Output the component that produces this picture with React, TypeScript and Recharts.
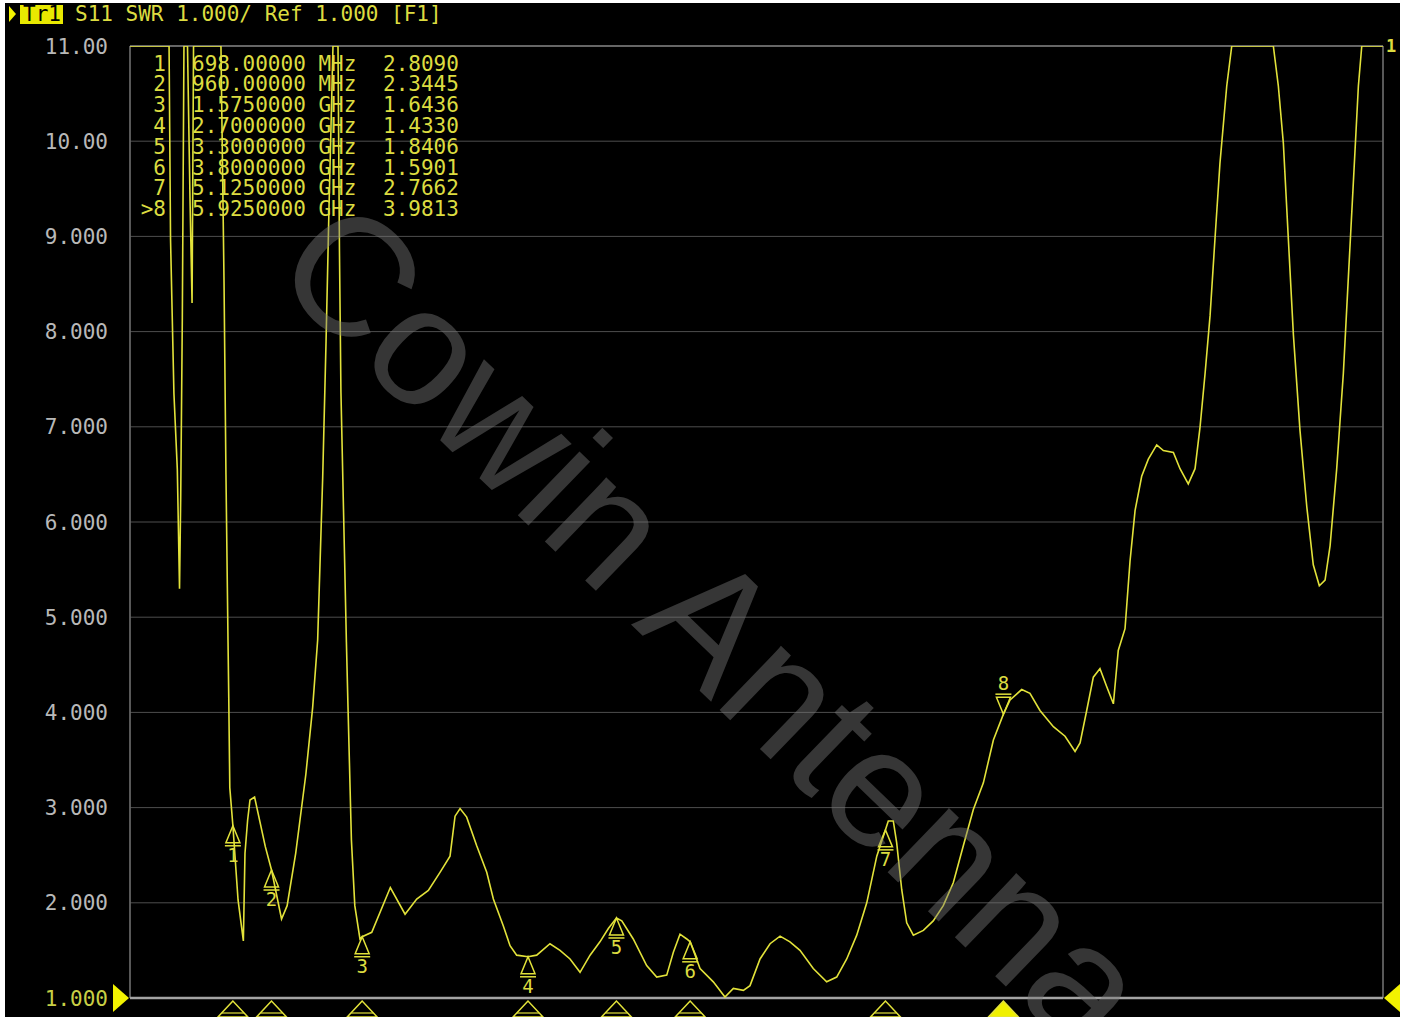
import React from 'react';
import { LineChart, Line, XAxis, YAxis, CartesianGrid, ReferenceLine, ReferenceDot } from 'recharts';

// S11 SWR trace, frequency in GHz
const freqGHz = [
  0, 0.265, 0.275, 0.298, 0.321, 0.336, 0.344, 0.355, 0.366, 0.39, 0.407, 0.421, 0.431,
  0.617, 0.638, 0.651, 0.665, 0.67, 0.677, 0.698, 0.733, 0.769, 0.78, 0.798, 0.814, 0.845,
  0.918, 0.96, 1.028, 1.066, 1.124, 1.193, 1.239, 1.273, 1.307, 1.33, 1.35, 1.377, 1.411,
  1.421, 1.431, 1.455, 1.468, 1.479, 1.502, 1.525, 1.56, 1.575, 1.64, 1.766, 1.866, 1.945,
  2.024, 2.103, 2.171, 2.205, 2.239, 2.284, 2.352, 2.42, 2.465, 2.532, 2.578, 2.623, 2.7,
  2.759, 2.849, 2.917, 2.985, 3.053, 3.121, 3.188, 3.245, 3.3, 3.336, 3.414, 3.505, 3.573,
  3.641, 3.686, 3.731, 3.777, 3.8, 3.867, 3.957, 4.036, 4.093, 4.161, 4.206, 4.274, 4.342,
  4.41, 4.477, 4.545, 4.635, 4.726, 4.794, 4.862, 4.93, 4.998, 5.066, 5.125, 5.144, 5.178,
  5.201, 5.235, 5.269, 5.314, 5.382, 5.449, 5.517, 5.585, 5.653, 5.721, 5.789, 5.857, 5.925,
  5.97, 6.049, 6.105, 6.173, 6.264, 6.343, 6.411, 6.445, 6.49, 6.535, 6.58, 6.626, 6.671,
  6.704, 6.75, 6.784, 6.818, 6.863, 6.908, 6.965, 7.01, 7.078, 7.123, 7.179, 7.225, 7.259,
  7.293, 7.327, 7.36, 7.394, 7.44, 7.474, 7.756, 7.79, 7.824, 7.858, 7.892, 7.937, 7.983,
  8.027, 8.068, 8.107, 8.141, 8.186, 8.231, 8.265, 8.299, 8.333, 8.356, 8.5,
];
const swr = [
  11, 11, 8.97, 7.35, 6.55, 5.3, 6.26, 8.15, 11, 11, 9.4, 8.3, 11,
  11, 8.5, 6.5, 4.74, 4.15, 3.21, 2.809, 2.03, 1.6, 2.52, 2.87, 3.08, 3.11,
  2.59, 2.3445, 1.83, 1.97, 2.52, 3.35, 4.05, 4.76, 6.46, 7.9, 9.3, 11, 11,
  8.84, 7.36, 5.66, 4.74, 4.05, 2.66, 1.97, 1.62, 1.6436, 1.69, 2.16, 1.88, 2.04,
  2.13, 2.32, 2.49, 2.91, 2.99, 2.9, 2.6, 2.32, 2.04, 1.76, 1.55, 1.45, 1.433,
  1.45, 1.57, 1.5, 1.41, 1.27, 1.45, 1.59, 1.73, 1.8406, 1.81, 1.62, 1.34, 1.22,
  1.24, 1.48, 1.67, 1.62, 1.5901, 1.31, 1.17, 1.01, 1.1, 1.08, 1.13, 1.41, 1.57,
  1.65, 1.59, 1.5, 1.31, 1.17, 1.22, 1.41, 1.66, 2.0, 2.49, 2.7662, 2.86, 2.86,
  2.63, 2.14, 1.79, 1.66, 1.71, 1.81, 1.97, 2.21, 2.6, 2.98, 3.26, 3.71, 3.9813,
  4.13, 4.24, 4.2, 4.02, 3.85, 3.75, 3.59, 3.68, 4.02, 4.37, 4.46, 4.27, 4.09,
  4.65, 4.88, 5.59, 6.12, 6.48, 6.66, 6.81, 6.75, 6.73, 6.56, 6.4, 6.56, 7.0,
  7.56, 8.17, 8.97, 9.77, 10.58, 11, 11, 10.58, 9.98, 8.97, 7.97, 6.96, 6.16,
  5.55, 5.33, 5.39, 5.75, 6.56, 7.56, 8.57, 9.57, 10.58, 11, 11,
];

const markerFreqs = [0.698, 0.96, 1.575, 2.7, 3.3, 3.8, 5.125, 5.925];
const markerSwr = [2.809, 2.3445, 1.6436, 1.433, 1.8406, 1.5901, 2.7662, 3.9813];
const activeMarker = 8;

const yTicks = [1, 2, 3, 4, 5, 6, 7, 8, 9, 10, 11];
const xTicks = [0, 0.85, 1.7, 2.55, 3.4, 4.25, 5.1, 5.95, 6.8, 7.65, 8.5];
const refLevel = 1;

const traceName = 'Tr1';
const headerText = 'S11 SWR 1.000/ Ref 1.000 [F1]';
const watermark = 'Cowin Antenna';

const YELLOW = '#e2e23a';
const TEXT_YELLOW = '#dcdc40';
const MONO = '"DejaVu Sans Mono", "Liberation Mono", monospace';

const data = freqGHz.map((f, i) => ({ f, v: swr[i] }));

const fmtFreq = (f: number) => (f < 1 ? `${(f * 1000).toFixed(5)} MHz` : `${f.toFixed(7)} GHz`);
const fmtY = (v: number) => (v >= 10 ? v.toFixed(2) : v.toFixed(3));

const YTick = (props: any) => {
  const { x, y, payload } = props;
  return (
    <text x={x} y={y} dy="0.36em" textAnchor="end" fontFamily={MONO} fontSize={21}
      fill={payload.value === refLevel ? '#c8cf45' : '#b8b8b8'}>
      {fmtY(payload.value)}
    </text>
  );
};

const traceMarker = (n: number) => (props: any) => {
  const { cx, cy } = props;
  if (n === activeMarker) {
    return (
      <g>
        <path d={`M${cx},${cy} L${cx - 7},${cy - 17} L${cx + 7},${cy - 17} Z`} fill="none" stroke={YELLOW} strokeWidth={1.5} />
        <line x1={cx - 8} x2={cx + 8} y1={cy - 20} y2={cy - 20} stroke={YELLOW} strokeWidth={1.5} />
        <text x={cx} y={cy - 24} textAnchor="middle" fontFamily={MONO} fontSize={19} fill={TEXT_YELLOW}>{n}</text>
      </g>
    );
  }
  return (
    <g>
      <path d={`M${cx},${cy} L${cx - 7},${cy + 17} L${cx + 7},${cy + 17} Z`} fill="none" stroke={YELLOW} strokeWidth={1.5} />
      <line x1={cx - 8} x2={cx + 8} y1={cy + 20} y2={cy + 20} stroke={YELLOW} strokeWidth={1.5} />
      <text x={cx} y={cy + 36} textAnchor="middle" fontFamily={MONO} fontSize={19} fill={TEXT_YELLOW}>{n}</text>
    </g>
  );
};

const axisMarker = (n: number) => (props: any) => {
  const { cx, cy } = props;
  const active = n === activeMarker;
  return (
    <g>
      <path d={`M${cx},${cy + 3} L${cx - 15},${cy + 19} L${cx + 15},${cy + 19} Z`}
        fill={active ? '#f0f000' : 'none'} stroke={YELLOW} strokeWidth={1.5} />
      {!active && <line x1={cx - 11} x2={cx + 11} y1={cy + 15} y2={cy + 15} stroke={YELLOW} strokeWidth={1.2} />}
    </g>
  );
};

const leftRef = (props: any) => {
  const { cx, cy } = props;
  return <path d={`M${cx - 1},${cy} L${cx - 17},${cy - 14} L${cx - 17},${cy + 14} Z`} fill="#f2f200" />;
};
const rightRef = (props: any) => {
  const { cx, cy } = props;
  return <path d={`M${cx + 1},${cy} L${cx + 17},${cy - 14} L${cx + 17},${cy + 14} Z`} fill="#f2f200" />;
};
const traceTag = (props: any) => {
  const { cx, cy } = props;
  return <text x={cx + 3} y={cy} dy="0.36em" fontFamily={MONO} fontSize={17} fontWeight="bold" fill={TEXT_YELLOW}>1</text>;
};

export default function App() {
  return (
    <div style={{ position: 'absolute', left: 0, top: 0, width: 1407, height: 1017, background: '#fff', overflow: 'hidden' }}>
      <div style={{ position: 'absolute', left: 5, top: 3, width: 1395, height: 1014, background: '#000' }} />
      <div style={{ position: 'absolute', left: 0, top: 0 }}>
        <LineChart width={1407} height={1017} data={data} margin={{ top: 46, right: 24, bottom: 19, left: 10 }}>
          <CartesianGrid stroke="#4e4e4e" strokeWidth={1} />
          <XAxis dataKey="f" type="number" domain={[0, 8.5]} ticks={xTicks} height={0}
            tick={false} axisLine={false} tickLine={false} />
          <YAxis type="number" domain={[1, 11]} ticks={yTicks} interval={0} width={120} allowDataOverflow
            axisLine={false} tickLine={false} tickSize={0} tickMargin={22} tick={<YTick />} />
          <ReferenceLine y={11} stroke="#7c7c7c" strokeWidth={1.5} />
          <ReferenceLine x={0} stroke="#6a6a6a" strokeWidth={1.5} />
          <ReferenceLine x={8.5} stroke="#6a6a6a" strokeWidth={1.5} />
          <ReferenceLine y={1} stroke="#a4a4a4" strokeWidth={2.5} />
          <Line type="linear" dataKey="v" stroke={YELLOW} strokeWidth={1.6} dot={false} isAnimationActive={false} />
          {markerFreqs.map((f, i) => (
            <ReferenceDot key={`m${i}`} x={f} y={markerSwr[i]} r={0} ifOverflow="visible" shape={traceMarker(i + 1)} />
          ))}
          {markerFreqs.map((f, i) => (
            <ReferenceDot key={`a${i}`} x={f} y={refLevel} r={0} ifOverflow="visible" shape={axisMarker(i + 1)} />
          ))}
          <ReferenceDot x={0} y={refLevel} r={0} ifOverflow="visible" shape={leftRef} />
          <ReferenceDot x={8.5} y={refLevel} r={0} ifOverflow="visible" shape={rightRef} />
          <ReferenceDot x={8.5} y={11} r={0} ifOverflow="visible" shape={traceTag} />
        </LineChart>
      </div>
      <svg width={1407} height={1017} style={{ position: 'absolute', left: 0, top: 0, pointerEvents: 'none' }}>
        <path d="M9,6 L16,14 L9,22 Z" fill="#f2f200" />
        <rect x={20} y={5} width={43} height={19} fill="#e8e800" />
        <text x={23} y={21} fontFamily={MONO} fontSize={21} fill="#000">{traceName}</text>
        <text x={75} y={21} fontFamily={MONO} fontSize={21} fill={TEXT_YELLOW}>{headerText}</text>
        {markerFreqs.map((f, i) => {
          const y = 70.5 + i * 20.8;
          const n = i + 1;
          return (
            <g key={i} fontFamily={MONO} fontSize={21} fill={TEXT_YELLOW}>
              <text x={166} y={y} textAnchor="end">{n === activeMarker ? `>${n}` : `${n}`}</text>
              <text x={192} y={y}>{fmtFreq(f)}</text>
              <text x={383} y={y}>{markerSwr[i].toFixed(4)}</text>
            </g>
          );
        })}
        <text x={268} y={274} transform="rotate(44 268 274)" fontFamily='"Liberation Sans", Arial, sans-serif'
          fontSize={168} fill="rgba(120,120,120,0.45)">{watermark}</text>
      </svg>
    </div>
  );
}
